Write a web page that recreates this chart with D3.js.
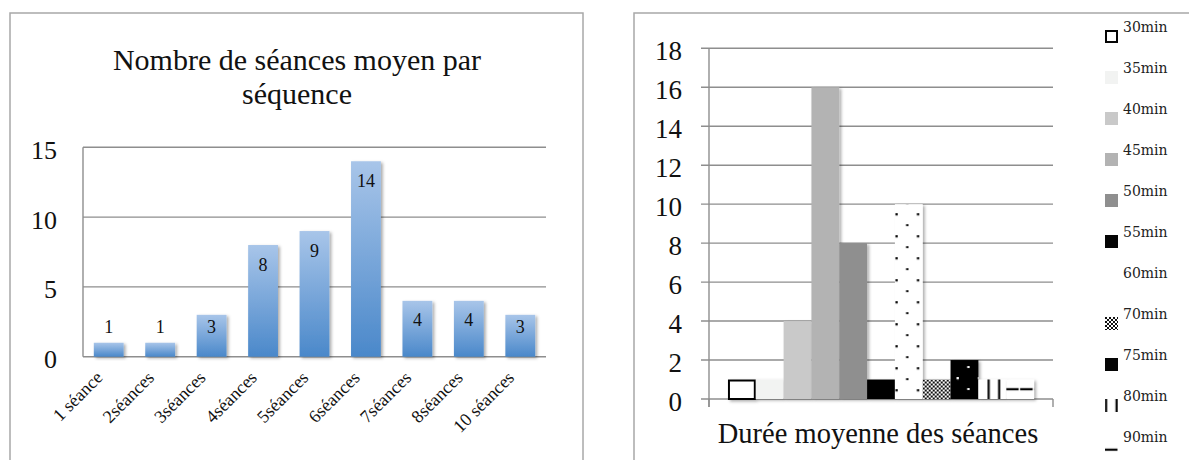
<!DOCTYPE html>
<html>
<head>
<meta charset="utf-8">
<script src="https://cdn.jsdelivr.net/npm/d3@7"></script>
<style>
  body { margin: 0; background: #fff; }
  svg { display: block; }
</style>
</head>
<body>
<div id="chart"></div>
<script>
// data
var seqCategories = ["1 séance", "2séances", "3séances", "4séances", "5séances", "6séances", "7séances", "8séances", "10 séances"];
var seqValues = [1, 1, 3, 8, 9, 14, 4, 4, 3];
var seqTicks = [0, 5, 10, 15];
var seqTitle = ["Nombre de séances moyen par", "séquence"];

var durGroup = "Durée moyenne des séances";
var durCategories = ["30min", "35min", "40min", "45min", "50min", "55min", "60min", "70min", "75min", "80min", "90min"];
var durValues = [1, 1, 4, 16, 8, 1, 10, 1, 2, 1, 1];
var durTicks = [0, 2, 4, 6, 8, 10, 12, 14, 16, 18];

// fill style per series (same order as durCategories)
var durStyles = ["outline", "#f2f3f2", "#c9c9c9", "#b3b3b3", "#8f8f8f", "#050505", "dots", "checker", "dotsInv", "vlines", "hlines"];

var W = 1189, H = 460;
var serif = "'Liberation Serif', 'Times New Roman', serif";
var gridColor = "#8e8e8e";
var frameColor = "#a8a8a8";

var svg = d3.select("#chart").append("svg")
    .attr("width", W)
    .attr("height", H);

var defs = svg.append("defs");

var grad = defs.append("linearGradient")
    .attr("id", "blueGrad")
    .attr("x1", 0).attr("y1", 0).attr("x2", 0).attr("y2", 1);
grad.append("stop").attr("offset", "0%").attr("stop-color", "#a8c5e9");
grad.append("stop").attr("offset", "100%").attr("stop-color", "#4a88ca");

var shadow = defs.append("filter")
    .attr("id", "shadow")
    .attr("x", "-30%").attr("y", "-30%")
    .attr("width", "160%").attr("height", "160%");
shadow.append("feDropShadow")
    .attr("dx", 2).attr("dy", 1.5)
    .attr("stdDeviation", 1.6)
    .attr("flood-color", "#000")
    .attr("flood-opacity", 0.32);

// frames
svg.append("rect")
    .attr("x", 10).attr("y", 13)
    .attr("width", 573).attr("height", 470)
    .attr("fill", "none")
    .attr("stroke", frameColor)
    .attr("stroke-width", 1.5);

svg.append("rect")
    .attr("x", 634).attr("y", 13)
    .attr("width", 600).attr("height", 470)
    .attr("fill", "none")
    .attr("stroke", frameColor)
    .attr("stroke-width", 1.5);

/* ---------------- left chart ---------------- */
(function() {
    var left = 83, right = 546, top = 147.3, bottom = 356.7;

    var x = d3.scaleBand()
        .domain(seqCategories)
        .range([left, right])
        .paddingInner(0.42)
        .paddingOuter(0.21);

    var y = d3.scaleLinear()
        .domain([0, 15])
        .range([bottom, top]);

    var g = svg.append("g");

    // title
    g.selectAll(".title")
        .data(seqTitle)
        .enter().append("text")
        .attr("x", 297)
        .attr("y", function(d, i) { return 70 + i * 34; })
        .attr("text-anchor", "middle")
        .attr("font-family", serif)
        .attr("font-size", 30)
        .attr("fill", "#111")
        .text(function(d) { return d; });

    // grid
    g.selectAll(".grid")
        .data(seqTicks)
        .enter().append("line")
        .attr("x1", left).attr("x2", right)
        .attr("y1", function(d) { return y(d); })
        .attr("y2", function(d) { return y(d); })
        .attr("stroke", gridColor)
        .attr("stroke-width", 1.4);

    g.append("line")
        .attr("x1", left).attr("x2", left)
        .attr("y1", top).attr("y2", bottom)
        .attr("stroke", gridColor)
        .attr("stroke-width", 1.4);

    var yAxis = g.append("g")
        .attr("transform", "translate(" + left + ",0)")
        .call(d3.axisLeft(y).tickValues(seqTicks).tickSize(0).tickPadding(26));
    yAxis.select(".domain").remove();
    yAxis.selectAll("text")
        .attr("font-family", serif)
        .attr("font-size", 26)
        .attr("fill", "#111")
        .attr("dy", "0.42em");

    // bars
    g.selectAll(".bar")
        .data(seqValues)
        .enter().append("rect")
        .attr("x", function(d, i) { return x(seqCategories[i]); })
        .attr("y", function(d) { return y(d); })
        .attr("width", x.bandwidth())
        .attr("height", function(d) { return y(0) - y(d); })
        .attr("fill", "url(#blueGrad)")
        .attr("filter", "url(#shadow)");

    // value labels
    g.selectAll(".val")
        .data(seqValues)
        .enter().append("text")
        .attr("x", function(d, i) { return x(seqCategories[i]) + x.bandwidth() / 2; })
        .attr("y", function(d) { return Math.min(y(d) + 25.5, y(0) - 24); })
        .attr("text-anchor", "middle")
        .attr("font-family", serif)
        .attr("font-size", 18)
        .attr("fill", "#111")
        .text(function(d) { return d; });

    // rotated category labels
    g.selectAll(".cat")
        .data(seqCategories)
        .enter().append("text")
        .attr("transform", function(d) {
            return "translate(" + (x(d) + x.bandwidth() / 2 - 5) + "," + (bottom + 22) + ") rotate(-45)";
        })
        .attr("text-anchor", "end")
        .attr("font-family", serif)
        .attr("font-size", 18)
        .attr("fill", "#111")
        .text(function(d) { return d; });
})();

/* ---------------- right chart ---------------- */
(function() {
    var left = 709, right = 1053, top = 48.3, bottom = 399;

    var x0 = d3.scaleBand()
        .domain([durGroup])
        .range([left, right])
        .paddingInner(0)
        .paddingOuter(0.062);

    var x1 = d3.scaleBand()
        .domain(durCategories)
        .range([0, x0.bandwidth()]);

    var y = d3.scaleLinear()
        .domain([0, 18])
        .range([bottom, top]);

    var g = svg.append("g");

    // fills: solid colours or patterns anchored at (ox, oy) in the shape's user space
    function fillFor(style, id, ox, oy) {
        if (style.charAt(0) === "#") return style;
        if (style === "outline") return "#fff";
        var p = defs.append("pattern")
            .attr("id", id)
            .attr("patternUnits", "userSpaceOnUse")
            .attr("x", ox).attr("y", oy);
        if (style === "dots" || style === "dotsInv") {
            var bg = style === "dots" ? "#fff" : "#050505";
            var fg = style === "dots" ? "#050505" : "#fff";
            p.attr("width", 21.5).attr("height", 22);
            p.append("rect").attr("width", 21.5).attr("height", 22).attr("fill", bg);
            p.append("rect").attr("x", 0.5).attr("y", 9).attr("width", 2.3).attr("height", 2.3).attr("fill", fg);
            p.append("rect").attr("x", 11.2).attr("y", 20).attr("width", 2.3).attr("height", 2.3).attr("fill", fg);
        } else if (style === "checker") {
            p.attr("width", 4).attr("height", 4);
            p.append("rect").attr("width", 4).attr("height", 4).attr("fill", "#fff");
            p.append("rect").attr("width", 2).attr("height", 2).attr("fill", "#111");
            p.append("rect").attr("x", 2).attr("y", 2).attr("width", 2).attr("height", 2).attr("fill", "#111");
        } else if (style === "vlines") {
            p.attr("width", 30).attr("height", 20);
            p.append("rect").attr("width", 30).attr("height", 20).attr("fill", "#fff");
            p.append("rect").attr("x", 9.2).attr("width", 2.2).attr("height", 20).attr("fill", "#050505");
            p.append("rect").attr("x", 19.7).attr("width", 2.2).attr("height", 20).attr("fill", "#050505");
        } else if (style === "hlines") {
            p.attr("width", 14).attr("height", 19.5);
            p.append("rect").attr("width", 14).attr("height", 19.5).attr("fill", "#fff");
            p.append("rect").attr("y", 8.6).attr("width", 12.5).attr("height", 2.2).attr("fill", "#050505");
        }
        return "url(#" + id + ")";
    }

    // pattern phase used by the bars and by the legend swatches
    var barPhase = { dots: [0, 0], dotsInv: [5.5, 8], vlines: [0, 0] };
    var legPhase = { dots: [14, -1], dotsInv: [14, -1], vlines: [-9.2, 0] };
    function phase(table, style) { return table[style] || [0, 0]; }

    // grid
    g.selectAll(".grid")
        .data(durTicks)
        .enter().append("line")
        .attr("x1", left - 8).attr("x2", right)
        .attr("y1", function(d) { return y(d); })
        .attr("y2", function(d) { return y(d); })
        .attr("stroke", gridColor)
        .attr("stroke-width", 1.4);

    g.append("line")
        .attr("x1", left).attr("x2", left)
        .attr("y1", top).attr("y2", bottom + 8)
        .attr("stroke", gridColor)
        .attr("stroke-width", 1.4);

    // category boundary ticks under the zero line
    g.selectAll(".btick")
        .data(x0.range())
        .enter().append("line")
        .attr("x1", function(d) { return d; })
        .attr("x2", function(d) { return d; })
        .attr("y1", bottom).attr("y2", bottom + 8)
        .attr("stroke", gridColor)
        .attr("stroke-width", 1.4);

    var yAxis = g.append("g")
        .attr("transform", "translate(" + left + ",0)")
        .call(d3.axisLeft(y).tickValues(durTicks).tickSize(0).tickPadding(27));
    yAxis.select(".domain").remove();
    yAxis.selectAll("text")
        .attr("font-family", serif)
        .attr("font-size", 27)
        .attr("fill", "#111")
        .attr("dy", "0.43em");

    // bars
    g.selectAll(".bar")
        .data(durValues)
        .enter().append("rect")
        .each(function(d, i) {
            var bx = x0(durGroup) + x1(durCategories[i]);
            var by = y(d);
            var style = durStyles[i];
            var ph = phase(barPhase, style);
            var fill = fillFor(style, "barPat" + i, bx + ph[0], by + ph[1]);
            d3.select(this)
                .attr("x", bx)
                .attr("y", by)
                .attr("width", x1.bandwidth())
                .attr("height", y(0) - by)
                .attr("fill", fill)
                .attr("filter", "url(#shadow)");
            if (style === "outline") {
                d3.select(this)
                    .attr("x", bx + 1).attr("y", by + 1)
                    .attr("width", x1.bandwidth() - 2)
                    .attr("height", y(0) - by - 1)
                    .attr("stroke", "#050505")
                    .attr("stroke-width", 2);
            }
        });

    // axis title
    g.append("text")
        .attr("x", (x0.range()[0] + x0.range()[1]) / 2 - 3)
        .attr("y", 443)
        .attr("text-anchor", "middle")
        .attr("font-family", serif)
        .attr("font-size", 28.5)
        .attr("fill", "#111")
        .text(durGroup);

    // legend (swatches live in a translated group, so patterns use local coords)
    var legend = g.selectAll(".leg")
        .data(durCategories)
        .enter().append("g")
        .attr("transform", function(d, i) { return "translate(1105," + (32 + i * 41) + ")"; });

    legend.append("rect")
        .each(function(d, i) {
            var style = durStyles[i];
            var ph = phase(legPhase, style);
            var fill = fillFor(style, "legPat" + i, ph[0], -2 + ph[1]);
            d3.select(this)
                .attr("x", 0).attr("y", -2)
                .attr("width", 13).attr("height", 13)
                .attr("fill", fill);
            if (style === "outline") {
                d3.select(this)
                    .attr("x", 1).attr("y", -1)
                    .attr("width", 11).attr("height", 11)
                    .attr("stroke", "#050505")
                    .attr("stroke-width", 2);
            }
        });

    legend.append("text")
        .attr("x", 18)
        .attr("y", 0)
        .attr("font-family", "'DejaVu Serif', serif")
        .attr("font-size", 14)
        .attr("fill", "#222")
        .text(function(d) { return d; });
})();
</script>
</body>
</html>
